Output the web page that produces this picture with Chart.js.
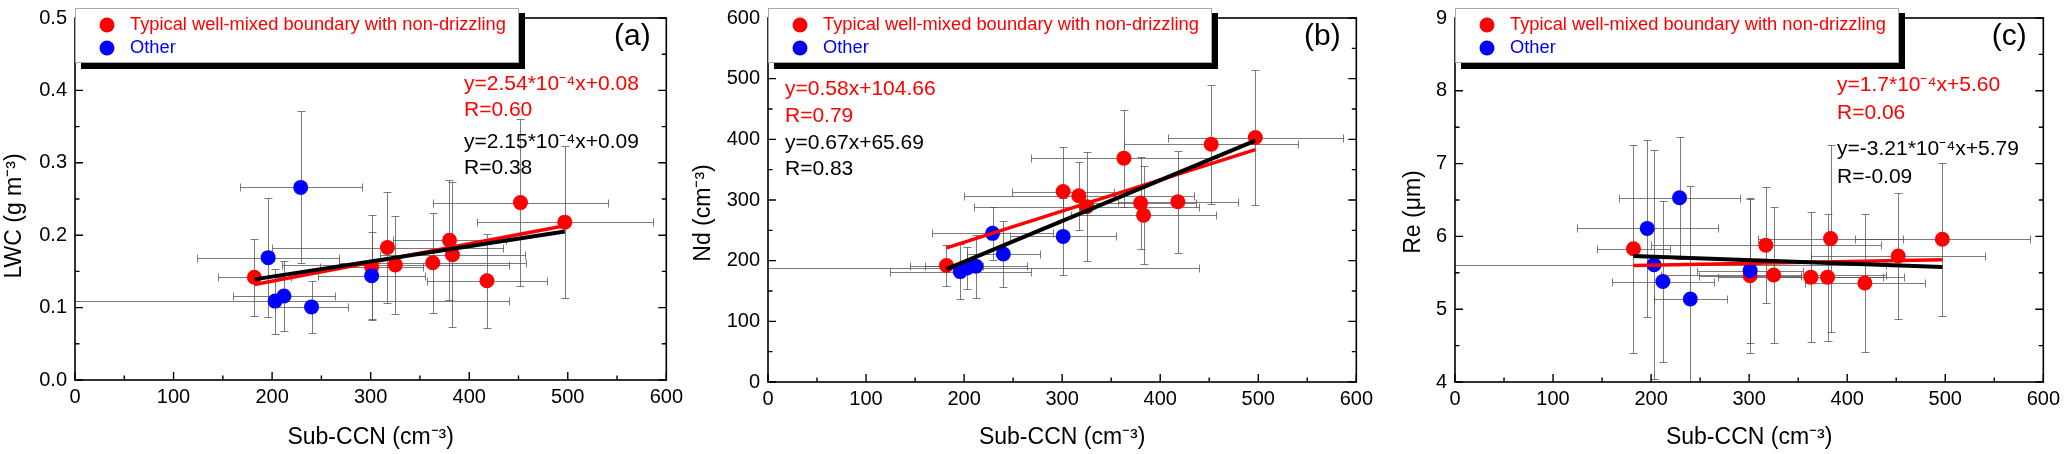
<!DOCTYPE html>
<html>
<head>
<meta charset="utf-8">
<title>Sub-CCN vs LWC, Nd, Re</title>
<script src="https://cdn.jsdelivr.net/npm/chart.js@4.4.0/dist/chart.umd.min.js"></script>
<style>
  html, body { margin: 0; padding: 0; background: #fff; }
  #wrap { position: relative; width: 2067px; height: 454px; overflow: hidden; }
  canvas { position: absolute; top: 0; }
</style>
</head>
<body>
<div id="wrap">
  <canvas id="chart-a" width="690" height="454" style="left:0px"></canvas>
  <canvas id="chart-b" width="690" height="454" style="left:690px"></canvas>
  <canvas id="chart-c" width="687" height="454" style="left:1380px"></canvas>
</div>
<script>
'use strict';

// **************************** DATA ****************************

// sub-CCN (cm-3), same cases in every panel
let subCcnRed = [182, 301, 317, 325, 363, 380, 383, 418, 452, 497];
let subCcnRedErr = [37, 52, 117, 115, 95, 57, 74, 61, 89, 89];
let subCcnBlue = [196, 203, 212, 229, 240, 301];
let subCcnBlueErr = [72, 237, 52, 62, 37, 54];

// (a) LWC (g m-3)
let lwcRed = [0.142, 0.156, 0.183, 0.159, 0.162, 0.193, 0.173, 0.137, 0.245, 0.218];
let lwcRedErr = [0.053, 0.072, 0.076, 0.068, 0.069, 0.083, 0.1, 0.065, 0.115, 0.105];
let lwcBlue = [0.169, 0.109, 0.116, 0.266, 0.101, 0.144];
let lwcBlueErr = [0.082, 0.045, 0.049, 0.105, 0.036, 0.061];

// (b) Nd (cm-3)
let ndRed = [192, 314, 307, 289, 369, 295, 275, 297, 392, 403];
let ndRedErr = [34, 73, 56, 90, 80, 76, 81, 84, 98, 111];
let ndBlue = [182, 188, 191, 245, 211, 240];
let ndBlueErr = [45, 35, 52, 44, 55, 63];

// (c) Re (um)
let reRed = [5.83, 5.46, 5.88, 5.47, 5.44, 5.44, 5.97, 5.36, 5.73, 5.96];
let reRedErr = [1.43, 1.06, 0.8, 0.93, 0.89, 0.87, 1.28, 0.95, 0.87, 1.05];
let reBlue = [6.11, 5.61, 5.38, 6.53, 5.14, 5.53];
let reBlueErr = [1.22, 1.57, 1.1, 0.84, 1.55, 1.0];

// fitted lines, end points
let fitX = [182, 497];
let lwcFitRed = [0.132, 0.213];
let lwcFitAll = [0.139, 0.205];
let ndFitRed = [221, 383];
let ndFitAll = [186, 398];
let reFitRed = [5.60, 5.68];
let reFitAll = [5.73, 5.58];

// tick labels
let xTicks = [0, 100, 200, 300, 400, 500, 600];
let lwcTicks = [0.0, 0.1, 0.2, 0.3, 0.4, 0.5];
let ndTicks = [0, 100, 200, 300, 400, 500, 600];
let reTicks = [4, 5, 6, 7, 8, 9];

// text
let legendLabels = ['Typical well-mixed boundary with non-drizzling', 'Other'];
let lwcEquations = ['y=2.54*10⁻⁴x+0.08', 'R=0.60', 'y=2.15*10⁻⁴x+0.09', 'R=0.38'];
let ndEquations = ['y=0.58x+104.66', 'R=0.79', 'y=0.67x+65.69', 'R=0.83'];
let reEquations = ['y=1.7*10⁻⁴x+5.60', 'R=0.06', 'y=-3.21*10⁻⁴x+5.79', 'R=-0.09'];


// **************************** STYLE ****************************

const FONT = "'Liberation Sans', Arial, Helvetica, sans-serif";
const RED = '#ff0000';
const BLUE = '#0000ff';
const EQ_COLORS = [RED, RED, '#000000', '#000000'];


// **************************** HELPERS ****************************

function toPoints(xs, ys, xErr, yErr) {
  return xs.map((x, i) => ({ x: x, y: ys[i], xErr: xErr ? xErr[i] : 0, yErr: yErr ? yErr[i] : 0 }));
}

function crisp(v) {
  return Math.round(v) + 0.5;
}

// error bars go under the markers
const errorBarPlugin = {
  id: 'errorBars',
  beforeDatasetsDraw(chart) {
    let ctx = chart.ctx;
    let area = chart.chartArea;
    let xs = chart.scales.x;
    let ys = chart.scales.y;
    let cap = 4;
    ctx.save();
    ctx.beginPath();
    ctx.rect(area.left, area.top, area.right - area.left, area.bottom - area.top);
    ctx.clip();
    ctx.strokeStyle = 'rgba(80, 80, 80, 0.75)';
    ctx.lineWidth = 1;
    chart.data.datasets.forEach(ds => {
      if (!ds.errorBars) {
        return;
      }
      ds.data.forEach(pt => {
        let px = crisp(xs.getPixelForValue(pt.x));
        let py = crisp(ys.getPixelForValue(pt.y));
        let x0 = crisp(xs.getPixelForValue(pt.x - pt.xErr));
        let x1 = crisp(xs.getPixelForValue(pt.x + pt.xErr));
        let y0 = crisp(ys.getPixelForValue(pt.y - pt.yErr));
        let y1 = crisp(ys.getPixelForValue(pt.y + pt.yErr));
        ctx.beginPath();
        ctx.moveTo(x0, py); ctx.lineTo(x1, py);
        ctx.moveTo(x0, py - cap); ctx.lineTo(x0, py + cap);
        ctx.moveTo(x1, py - cap); ctx.lineTo(x1, py + cap);
        ctx.moveTo(px, y0); ctx.lineTo(px, y1);
        ctx.moveTo(px - cap, y0); ctx.lineTo(px + cap, y0);
        ctx.moveTo(px - cap, y1); ctx.lineTo(px + cap, y1);
        ctx.stroke();
      });
    });
    ctx.restore();
  }
};

// frame, inward ticks, legend box, y title, panel label and fit equations
const decoPlugin = {
  id: 'deco',
  afterDraw(chart, args, opts) {
    let ctx = chart.ctx;
    let area = chart.chartArea;
    let xs = chart.scales.x;
    let ys = chart.scales.y;
    let major = 8;
    let minor = 4.5;

    ctx.save();
    ctx.strokeStyle = '#000';
    ctx.lineWidth = 1.6;
    ctx.strokeRect(area.left, area.top, area.right - area.left, area.bottom - area.top);

    ctx.lineWidth = 1.4;
    ctx.beginPath();
    for (let v = xs.min; v <= xs.max + 1e-9; v += opts.xStep / 2) {
      let k = (v - xs.min) / opts.xStep;
      let len = Math.abs(k - Math.round(k)) < 1e-6 ? major : minor;
      let px = xs.getPixelForValue(v);
      ctx.moveTo(px, area.bottom); ctx.lineTo(px, area.bottom - len);
    }
    for (let v = ys.min; v <= ys.max + 1e-9; v += opts.yStep / 2) {
      let k = (v - ys.min) / opts.yStep;
      let len = Math.abs(k - Math.round(k)) < 1e-6 ? major : minor;
      let py = ys.getPixelForValue(v);
      ctx.moveTo(area.left, py); ctx.lineTo(area.left + len, py);
      ctx.moveTo(area.right, py); ctx.lineTo(area.right - len, py);
    }
    ctx.stroke();

    // legend with drop shadow
    let lx = area.left;
    let ly = 8;
    let lw = 444;
    let lh = 55;
    ctx.fillStyle = '#000';
    ctx.fillRect(lx + 6, ly + 5, lw, lh + 1);
    ctx.fillStyle = '#fff';
    ctx.fillRect(lx, ly, lw, lh);
    ctx.strokeStyle = '#aaa';
    ctx.lineWidth = 1;
    ctx.strokeRect(lx + 0.5, ly + 0.5, lw - 1, lh - 1);

    let legendColors = [RED, BLUE];
    ctx.font = '18.3px ' + FONT;
    ctx.textBaseline = 'middle';
    ctx.textAlign = 'left';
    legendLabels.forEach((txt, i) => {
      let cy = ly + 17 + i * 23;
      ctx.fillStyle = legendColors[i];
      ctx.beginPath();
      ctx.arc(lx + 32, cy, 7.5, 0, Math.PI * 2);
      ctx.fill();
      ctx.fillText(txt, lx + 55, cy);
    });

    // y axis title, rotated
    ctx.fillStyle = '#000';
    ctx.font = '23px ' + FONT;
    ctx.textAlign = 'center';
    ctx.save();
    ctx.translate(opts.yTitleX, opts.yTitleY);
    ctx.rotate(-Math.PI / 2);
    ctx.fillText(opts.yTitle, 0, 0);
    ctx.restore();

    // panel label
    ctx.font = '30px ' + FONT;
    ctx.fillText(opts.label, area.right - 34, 37);

    // fit equations
    ctx.font = '21px ' + FONT;
    ctx.textAlign = 'left';
    opts.equations.forEach((txt, i) => {
      ctx.fillStyle = EQ_COLORS[i];
      ctx.fillText(txt, area.left + opts.eqX, opts.eqY[i]);
    });
    ctx.restore();
  }
};


// **************************** CHARTS ****************************

function renderPanel(p) {
  let canvas = document.getElementById(p.id);
  let xHeight = canvas.height - p.bottom;

  let config = {
    type: 'scatter',
    data: {
      datasets: [
        {
          label: 'fit all',
          data: toPoints(fitX, p.fitAll),
          showLine: true,
          borderColor: '#000',
          borderWidth: 4,
          pointRadius: 0,
          fill: false
        },
        {
          label: 'fit typical',
          data: toPoints(fitX, p.fitRed),
          showLine: true,
          borderColor: RED,
          borderWidth: 3.5,
          pointRadius: 0,
          fill: false
        },
        {
          label: legendLabels[1],
          data: toPoints(subCcnBlue, p.blue, subCcnBlueErr, p.blueErr),
          errorBars: true,
          backgroundColor: BLUE,
          borderWidth: 0,
          pointRadius: 7.5
        },
        {
          label: legendLabels[0],
          data: toPoints(subCcnRed, p.red, subCcnRedErr, p.redErr),
          errorBars: true,
          backgroundColor: RED,
          borderWidth: 0,
          pointRadius: 7.5
        }
      ]
    },
    options: {
      responsive: false,
      animation: false,
      events: [],
      layout: {
        padding: { top: p.top, right: p.padRight, left: 0, bottom: 0 }
      },
      scales: {
        x: {
          type: 'linear',
          min: xTicks[0],
          max: xTicks[xTicks.length - 1],
          afterBuildTicks: scale => {
            scale.ticks = xTicks.map(v => ({ value: v }));
          },
          afterFit: scale => {
            scale.height = xHeight;
          },
          grid: { display: false, drawTicks: false },
          border: { display: false },
          ticks: {
            padding: 7,
            color: '#000',
            font: { family: FONT, size: 20, lineHeight: 1 },
            maxRotation: 0
          },
          title: {
            display: true,
            text: 'Sub-CCN (cm⁻³)',
            color: '#000',
            font: { family: FONT, size: 23 },
            padding: { top: 0, bottom: 3 }
          }
        },
        y: {
          type: 'linear',
          min: p.yTicks[0],
          max: p.yTicks[p.yTicks.length - 1],
          afterBuildTicks: scale => {
            scale.ticks = p.yTicks.map(v => ({ value: v }));
          },
          afterFit: scale => {
            scale.width = p.axisW;
          },
          grid: { display: false, drawTicks: false },
          border: { display: false },
          ticks: {
            padding: 8,
            color: '#000',
            font: { family: FONT, size: 20, lineHeight: 1 },
            callback: v => v.toFixed(p.digits)
          },
          title: { display: false }
        }
      },
      plugins: {
        legend: { display: false },
        tooltip: { enabled: false },
        deco: {
          label: p.label,
          equations: p.equations,
          eqX: p.eqX,
          eqY: p.eqY,
          yTitle: p.yTitle,
          yTitleX: p.yTitleX,
          yTitleY: p.yTitleY,
          xStep: 100,
          yStep: p.yTicks[1] - p.yTicks[0]
        }
      }
    },
    plugins: [errorBarPlugin, decoPlugin]
  };

  new Chart(canvas, config);
}

renderPanel({
  id: 'chart-a', yTitle: 'LWC (g m⁻³)', yTicks: lwcTicks, digits: 1,
  red: lwcRed, redErr: lwcRedErr, blue: lwcBlue, blueErr: lwcBlueErr,
  fitRed: lwcFitRed, fitAll: lwcFitAll, label: '(a)', equations: lwcEquations,
  eqX: 389, eqY: [84, 110, 142, 168], yTitleX: 15, yTitleY: 216,
  axisW: 75, padRight: 21, top: 10, bottom: 380
});

renderPanel({
  id: 'chart-b', yTitle: 'Nd (cm⁻³)', yTicks: ndTicks, digits: 0,
  red: ndRed, redErr: ndRedErr, blue: ndBlue, blueErr: ndBlueErr,
  fitRed: ndFitRed, fitAll: ndFitAll, label: '(b)', equations: ndEquations,
  eqX: 17, eqY: [89, 116, 143, 169], yTitleX: 14, yTitleY: 213,
  axisW: 78, padRight: 18, top: 12, bottom: 382
});

renderPanel({
  id: 'chart-c', yTitle: 'Re (μm)', yTicks: reTicks, digits: 0,
  red: reRed, redErr: reRedErr, blue: reBlue, blueErr: reBlueErr,
  fitRed: reFitRed, fitAll: reFitAll, label: '(c)', equations: reEquations,
  eqX: 382, eqY: [85, 113, 149, 177], yTitleX: 34, yTitleY: 212,
  axisW: 75, padRight: 18, top: 10, bottom: 382
});
</script>
</body>
</html>
